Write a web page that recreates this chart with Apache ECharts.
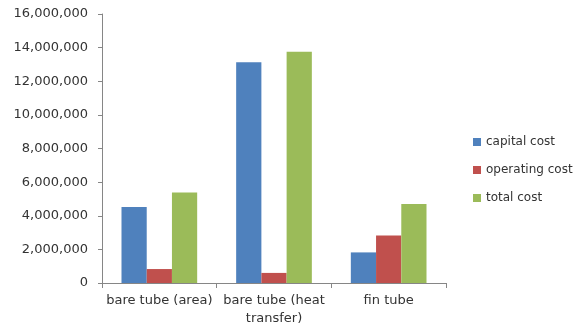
<!DOCTYPE html>
<html>
<head>
<meta charset="utf-8">
<script src="https://cdn.jsdelivr.net/npm/echarts@6/dist/echarts.min.js"></script>
<style>
html, body { margin: 0; padding: 0; background: #ffffff; }
#box { width: 582px; height: 331px; }
</style>
</head>
<body>
<div id="box"></div>
<script>
// categories and values
const categories = ["bare tube (area)", "bare tube (heat\ntransfer)", "fin tube"]
const seriesNames = ["capital cost", "operating cost", "total cost"]
const capitalCost = [4520000, 13130000, 1820000]
const operatingCost = [830000, 600000, 2820000]
const totalCost = [5390000, 13750000, 4700000]

const myCharts = echarts.init(document.getElementById("box"))
const font = "'DejaVu Sans', sans-serif"

const option = {
	animation: false,
	color: ["#4F81BD", "#C0504D", "#9BBB59"],
	textStyle: { fontFamily: font },
	legend: {
		orient: "vertical",
		left: 468,
		top: 131,
		itemWidth: 8,
		itemHeight: 8,
		itemGap: 16,
		icon: "rect",
		textStyle: { fontSize: 12, color: "#333333", fontFamily: font },
		data: seriesNames,
	},
	grid: {
		left: 102,
		right: 136,
		top: 14,
		bottom: 48,
	},
	xAxis: {
		type: "category",
		data: categories,
		axisLine: { lineStyle: { color: "#868686" } },
		axisTick: { show: true, length: 5, lineStyle: { color: "#868686" } },
		axisLabel: { fontSize: 13, color: "#333333", margin: 9, lineHeight: 18, interval: 0 },
	},
	yAxis: {
		type: "value",
		min: 0,
		max: 16000000,
		interval: 2000000,
		splitLine: { show: false },
		axisLine: { show: true, lineStyle: { color: "#868686" } },
		axisTick: { show: true, length: 4, lineStyle: { color: "#868686" } },
		axisLabel: {
			fontSize: 13,
			color: "#333333",
			margin: 14,
			formatter: function (v) {
				return v.toLocaleString("en-US")
			},
		},
	},
	series: [
		{ name: seriesNames[0], type: "bar", data: capitalCost, barGap: "0%", barCategoryGap: "34%" },
		{ name: seriesNames[1], type: "bar", data: operatingCost, barGap: "0%", barCategoryGap: "34%" },
		{ name: seriesNames[2], type: "bar", data: totalCost, barGap: "0%", barCategoryGap: "34%" },
	],
}
myCharts.setOption(option)
</script>
</body>
</html>
